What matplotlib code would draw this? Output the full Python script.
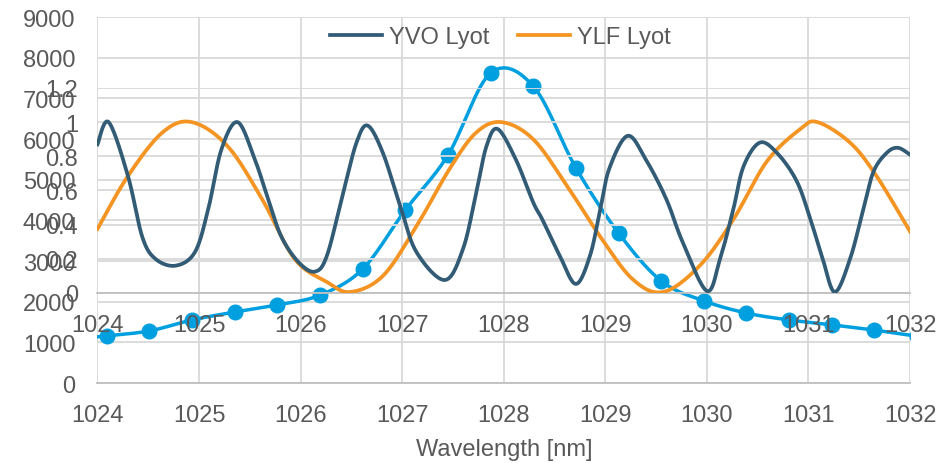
import numpy as np
import matplotlib
matplotlib.use('Agg')
import matplotlib.pyplot as plt

plt.rcParams['font.family'] = ['Liberation Sans', 'DejaVu Sans']

# light blue series on the 0-9000 axis (markers)
wl_pts = [1023.67, 1024.09, 1024.51, 1024.93, 1025.35, 1025.77, 1026.19, 1026.61,
          1027.03, 1027.45, 1027.87, 1028.29, 1028.71, 1029.13, 1029.55, 1029.97,
          1030.39, 1030.81, 1031.23, 1031.65, 1032.07]
counts = [1050, 1160, 1280, 1550, 1745, 1920, 2160, 2800, 4250, 5600, 7620, 7300,
          5290, 3690, 2510, 2020, 1720, 1550, 1430, 1300, 1150]

# YVO Lyot transmission (0-1.2 axis)
yvo_wl = [1024.00, 1024.11, 1024.30, 1024.44, 1024.57, 1024.77, 1024.96, 1025.09,
          1025.22, 1025.38, 1025.55, 1025.68, 1025.81, 1025.98, 1026.14, 1026.26,
          1026.42, 1026.55, 1026.66, 1026.81, 1026.98, 1027.14, 1027.42, 1027.60,
          1027.73, 1027.83, 1027.94, 1028.12, 1028.29, 1028.38, 1028.55, 1028.71,
          1028.85, 1028.95, 1029.04, 1029.22, 1029.40, 1029.60, 1029.76, 1030.00,
          1030.13, 1030.26, 1030.36, 1030.52, 1030.69, 1030.88, 1031.01, 1031.14,
          1031.26, 1031.41, 1031.54, 1031.64, 1031.77, 1031.88, 1032.00]
yvo_t = [0.87, 1.00, 0.685, 0.33, 0.20, 0.16, 0.24, 0.49,
         0.84, 1.00, 0.78, 0.55, 0.33, 0.18, 0.125, 0.22,
         0.59, 0.88, 0.98, 0.82, 0.51, 0.24, 0.076, 0.26,
         0.59, 0.86, 0.96, 0.78, 0.53, 0.43, 0.22, 0.053,
         0.22, 0.49, 0.73, 0.92, 0.78, 0.55, 0.30, 0.012,
         0.20, 0.49, 0.74, 0.88, 0.82, 0.66, 0.45, 0.20,
         0.006, 0.20, 0.49, 0.71, 0.82, 0.85, 0.81]

# YLF Lyot transmission (0-1.2 axis)
ylf_wl = [1024.00, 1024.30, 1024.64, 1024.93, 1025.28, 1025.62, 1025.94, 1026.26,
          1026.49, 1026.81, 1027.14, 1027.47, 1027.73, 1027.98, 1028.29, 1028.62,
          1028.95, 1029.27, 1029.57, 1029.93, 1030.26, 1030.59, 1030.92, 1031.09,
          1031.41, 1031.67, 1032.00]
ylf_t = [0.375, 0.685, 0.94, 1.00, 0.86, 0.55, 0.20, 0.064,
         0.006, 0.10, 0.39, 0.73, 0.94, 1.00, 0.90, 0.63,
         0.33, 0.08, 0.006, 0.16, 0.43, 0.77, 0.96, 1.00,
         0.88, 0.685, 0.36]

x_ticks = [1024, 1025, 1026, 1027, 1028, 1029, 1030, 1031, 1032]
outer_yticks = [0, 1000, 2000, 3000, 4000, 5000, 6000, 7000, 8000, 9000]
inner_yticks = [0, 0.2, 0.4, 0.6, 0.8, 1.0, 1.2]
inner_ylabels = ['0', '0.2', '0.4', '0.6', '0.8', '1', '1.2']


def smooth(x, y, sx=1.0, sy=1.0, n=30):
    # Catmull-Rom through the points (like Excel's smoothed line)
    p = np.column_stack([np.asarray(x) * sx, np.asarray(y) * sy])
    p = np.vstack([p[0], p, p[-1]])
    out = []
    t = np.linspace(0, 1, n, endpoint=False)[:, None]
    for i in range(1, len(p) - 2):
        p0, p1, p2, p3 = p[i - 1], p[i], p[i + 1], p[i + 2]
        seg = 0.5 * ((2 * p1) + (-p0 + p2) * t + (2 * p0 - 5 * p1 + 4 * p2 - p3) * t ** 2
                     + (-p0 + 3 * p1 - 3 * p2 + p3) * t ** 3)
        out.append(seg)
    out.append(p[-2][None, :])
    out = np.vstack(out)
    return out[:, 0] / sx, out[:, 1] / sy


grid_c = '#D9D9D9'
text_c = '#595959'
fs = 17

fig = plt.figure(figsize=(9.53, 4.64), dpi=100)
ax = fig.add_axes([0.1023, 0.1724, 0.8526, 0.7888])
ax2 = fig.add_axes([0.1023, 0.3664, 0.8526, 0.4418])

# outer axis
sx, sy = smooth(wl_pts, counts, sx=101.6, sy=366 / 9000)
ax.plot(sx, sy, color='#009FDF', lw=2.5, zorder=3)
ax.plot(wl_pts, counts, 'o', color='#009FDF', ms=10.5, zorder=3)
ax.set_xlim(1024, 1032)
ax.set_ylim(0, 9000)
ax.set_xticks(x_ticks)
ax.set_yticks(outer_yticks)
ax.grid(True, color=grid_c, lw=1.3)
ax.set_axisbelow(True)
for s in ['top', 'right', 'left']:
    ax.spines[s].set_visible(False)
ax.spines['bottom'].set_color('#BFBFBF')
ax.spines['bottom'].set_linewidth(1.3)
ax.tick_params(length=0, labelsize=fs, labelcolor=text_c)
ax.tick_params(axis='y', pad=16)
ax.tick_params(axis='x', pad=15)
ax.set_xlabel('Wavelength [nm]', fontsize=fs, color=text_c, labelpad=9)

# inner axis (Lyot filters)
ax2.patch.set_alpha(0)
vx, vy = smooth(yvo_wl, yvo_t, sx=101.6, sy=205 / 1.2)
lx, ly = smooth(ylf_wl, ylf_t, sx=101.6, sy=205 / 1.2)
ax2.plot(lx, ly, color='#F39423', lw=2.7, label='YLF Lyot', zorder=3)
ax2.plot(vx, vy, color='#325B75', lw=2.7, label='YVO Lyot', zorder=4)
ax2.set_xlim(1024, 1032)
ax2.set_ylim(0, 1.2)
ax2.set_xticks(x_ticks)
ax2.set_yticks(inner_yticks)
ax2.set_yticklabels(inner_ylabels)
ax2.grid(True, color=grid_c, lw=1.3, zorder=1)
for s in ['top', 'right', 'left']:
    ax2.spines[s].set_visible(False)
ax2.spines['bottom'].set_color('#BFBFBF')
ax2.spines['bottom'].set_linewidth(1.3)
ax2.tick_params(length=0, labelsize=fs, labelcolor=text_c)
ax2.tick_params(axis='y', pad=14)
ax2.tick_params(axis='x', pad=15)

h, l = ax2.get_legend_handles_labels()
fig.legend(h[::-1], l[::-1], loc='center', bbox_to_anchor=(0.525, 0.918), ncol=2,
           frameon=False, fontsize=fs, labelcolor=text_c, handlelength=2.2,
           handletextpad=0.3, columnspacing=1.2)

fig.savefig('out.png', dpi=100)
